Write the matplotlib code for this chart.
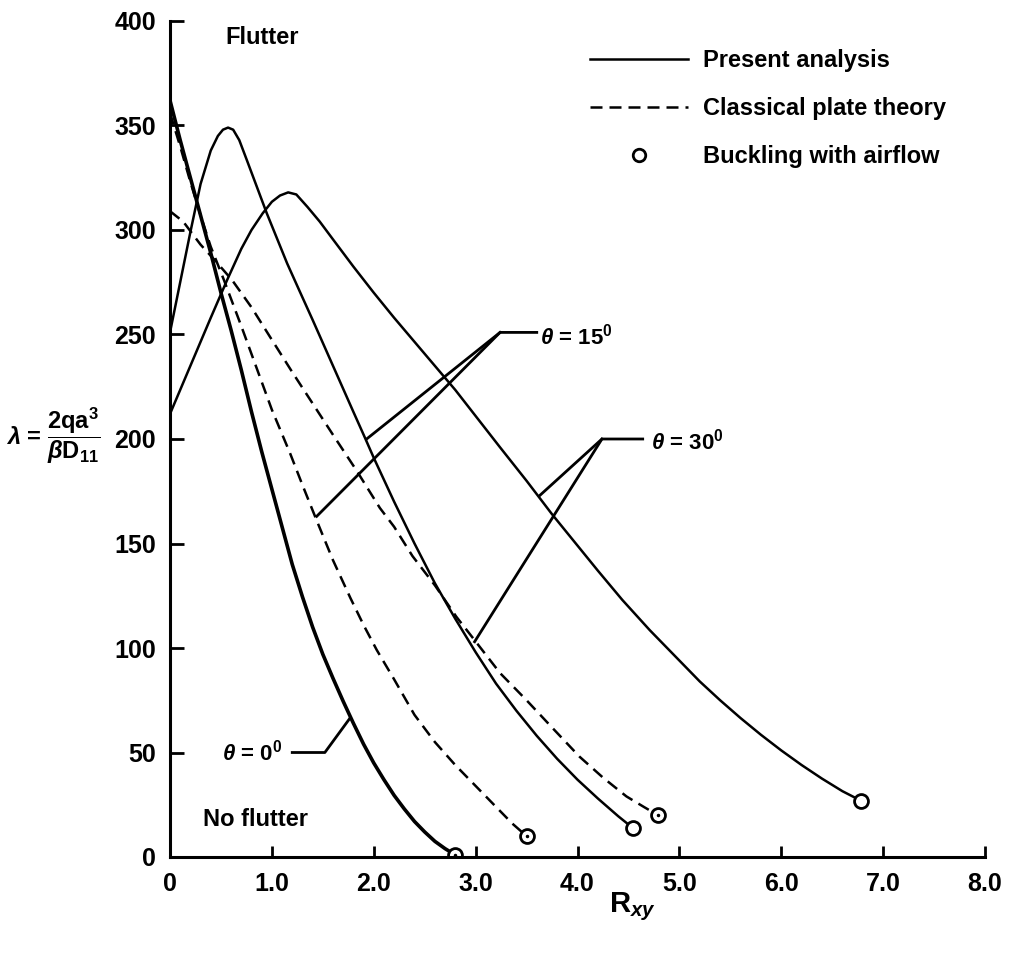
import matplotlib
matplotlib.use("Agg")
import matplotlib.pyplot as plt
from matplotlib.lines import Line2D

plt.rcParams['font.family'] = ['Liberation Sans', 'DejaVu Sans']
plt.rcParams['font.weight'] = 'bold'
plt.rcParams['mathtext.fontset'] = 'custom'
plt.rcParams['mathtext.rm'] = 'Liberation Sans:bold'
plt.rcParams['mathtext.it'] = 'Liberation Sans:bold:italic'
plt.rcParams['mathtext.bf'] = 'Liberation Sans:bold'

# present analysis (solid), theta = 0, 15, 30 deg
rxy_0 = [0, 0.1, 0.2, 0.3, 0.4, 0.5, 0.6, 0.7, 0.8, 0.9, 1.0, 1.1, 1.2, 1.3, 1.4, 1.5,
         1.6, 1.7, 1.8, 1.9, 2.0, 2.1, 2.2, 2.3, 2.4, 2.5, 2.6, 2.7, 2.8]
lam_0 = [362, 343, 325, 307, 289, 270, 252, 233, 213, 194, 176, 158, 140, 124.5, 110, 97,
         85.5, 74.5, 64, 54, 45, 37, 29.5, 23, 17, 12, 7.5, 4, 1]

rxy_15 = [0, 0.1, 0.2, 0.3, 0.4, 0.47, 0.52, 0.57, 0.62, 0.68, 0.75, 0.85, 0.95, 1.05,
          1.15, 1.27, 1.4, 1.6, 1.8, 1.91, 2.0, 2.2, 2.4, 2.6, 2.8, 3.0, 3.2, 3.4, 3.6,
          3.8, 4.0, 4.2, 4.4, 4.54]
lam_15 = [251, 275, 299, 322, 338, 345, 348, 349, 348, 343, 334, 321, 308, 296,
          284, 271, 257, 235, 213, 201, 191, 170, 150, 131, 114, 98, 83, 70, 58,
          47, 37, 28, 19.5, 14]

rxy_30 = [0, 0.2, 0.4, 0.56, 0.7, 0.8, 0.91, 1.0, 1.08, 1.16, 1.24, 1.35, 1.47, 1.6,
          1.8, 2.0, 2.2, 2.4, 2.6, 2.8, 3.0, 3.24, 3.5, 3.75, 4.0, 4.2, 4.44, 4.71,
          5.0, 5.2, 5.4, 5.6, 5.8, 6.0, 6.2, 6.4, 6.6, 6.78]
lam_30 = [212, 235, 258, 276, 291, 300, 308, 313.5, 316.5, 318, 317, 311, 304, 295.5,
          282.5, 270, 258, 246.5, 235, 223.5, 211, 196, 180, 164, 149, 137, 123, 108.5,
          94, 84, 75, 66.5, 58.5, 51, 44, 37.5, 31.5, 27]

# classical plate theory (dashed), theta = 15, 30 deg
rxy_15c = [0, 0.1, 0.2, 0.3, 0.4, 0.53, 0.7, 0.85, 1.0, 1.18, 1.3, 1.44, 1.6, 1.77,
           1.9, 2.03, 2.2, 2.4, 2.6, 2.8, 3.0, 3.2, 3.36, 3.5]
lam_15c = [356, 340, 323, 307, 292, 276, 254, 234, 214, 193, 178, 161, 142, 124,
           111, 99, 85, 68, 55, 44, 34, 24, 16, 10]

rxy_30c = [0, 0.13, 0.3, 0.45, 0.61, 0.8, 0.98, 1.2, 1.4, 1.6, 1.83, 2.06, 2.2, 2.38,
           2.6, 2.81, 2.97, 3.24, 3.5, 3.73, 4.02, 4.25, 4.48, 4.65, 4.79]
lam_30c = [309, 304, 293, 285, 276, 263, 249, 232, 217, 202, 185, 167, 158, 144,
           130, 115, 105, 88, 75, 63, 48, 38, 29, 24, 20]

# buckling with airflow end points
buck_present_x = [4.54, 6.78]
buck_present_y = [14, 27]
buck_classic_x = [2.80, 3.50, 4.79]
buck_classic_y = [1, 10, 20]

fig = plt.figure(figsize=(10.16, 9.58), dpi=100)
ax = fig.add_axes([170 / 1016, 1 - 857 / 958, 815 / 1016, 836 / 958])

lw = 1.8
dash = (4.8, 2.8)
ax.plot(rxy_0, lam_0, color='k', lw=2.6)
ax.plot(rxy_15, lam_15, color='k', lw=lw)
ax.plot(rxy_30, lam_30, color='k', lw=lw)
ax.plot(rxy_15c, lam_15c, color='k', lw=lw, dashes=dash)
ax.plot(rxy_30c, lam_30c, color='k', lw=lw, dashes=dash)

ax.plot(buck_present_x, buck_present_y, 'o', ms=10, mfc='white', mec='k', mew=2)
ax.plot(buck_classic_x, buck_classic_y, 'o', ms=10, mfc='white', mec='k', mew=2)
ax.plot(buck_classic_x, buck_classic_y, '.', ms=3, color='k')

# leader lines for the curve labels
kw = dict(color='k', lw=2)
ax.plot([1.20, 1.52, 1.76], [50, 50, 66], **kw)
ax.plot([3.60, 3.24, 1.93], [251, 251, 200], **kw)
ax.plot([3.24, 1.44], [251, 163], **kw)
ax.plot([4.64, 4.24, 3.63], [200, 200, 173], **kw)
ax.plot([4.24, 2.99], [200, 103], **kw)

fs = 17
ax.text(0.51, 50, r'$\theta$ = 0$^0$', fontsize=16, va='center', ha='left')
ax.text(3.63, 249, r'$\theta$ = 15$^0$', fontsize=16, va='center', ha='left')
ax.text(4.72, 199, r'$\theta$ = 30$^0$', fontsize=16, va='center', ha='left')
ax.text(0.54, 392, 'Flutter', fontsize=fs, va='center', ha='left')
ax.text(0.32, 18, 'No flutter', fontsize=fs, va='center', ha='left')

handles = [
    Line2D([], [], color='k', lw=lw),
    Line2D([], [], color='k', lw=lw, dashes=dash),
    Line2D([], [], color='k', ls='none', marker='o', ms=9, mfc='white', mec='k', mew=2),
]
labels = ['Present analysis', 'Classical plate theory', 'Buckling with airflow']
ax.legend(handles, labels, loc='upper left', bbox_to_anchor=(0.515, 0.966),
          frameon=False, fontsize=fs, handlelength=4.15, handletextpad=0.64,
          labelspacing=1.05, borderpad=0, borderaxespad=0)

ax.set_xlim(0, 8)
ax.set_ylim(0, 400)
ax.set_xticks(range(0, 9))
ax.set_xticklabels(['0', '1.0', '2.0', '3.0', '4.0', '5.0', '6.0', '7.0', '8.0'])
ax.set_yticks(range(0, 401, 50))
ax.tick_params(axis='y', direction='in', length=10, width=2, pad=10, labelsize=18)
ax.tick_params(axis='x', direction='in', length=8, width=2, pad=11, labelsize=18)
for s in ['top', 'right']:
    ax.spines[s].set_visible(False)
for s in ['left', 'bottom']:
    ax.spines[s].set_linewidth(2.2)

fig.text(632 / 1016, 1 - 907 / 958, r'R$_{xy}$', fontsize=21, ha='center', va='center')
fig.text(6 / 1016, 1 - 436 / 958,
         r'$\lambda$ = $\dfrac{\mathrm{2qa}^3}{\beta\mathrm{D}_{11}}$', fontsize=17,
         ha='left', va='center')

fig.savefig('out.png', dpi=100)
